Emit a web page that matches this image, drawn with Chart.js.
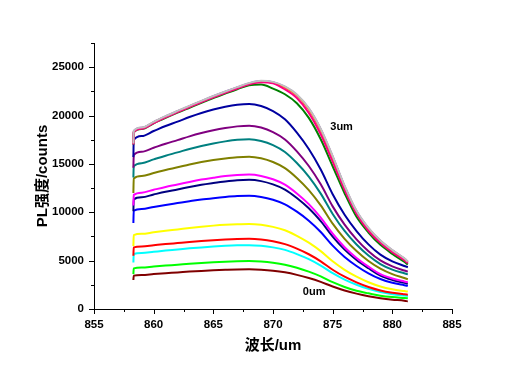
<!DOCTYPE html>
<html>
<head>
<meta charset="utf-8">
<script src="https://cdn.jsdelivr.net/npm/chart.js@4.4.1/dist/chart.umd.min.js"></script>
<style>
html,body{margin:0;padding:0;background:#fff;}
canvas{display:block;}
</style>
</head>
<body>
<canvas id="c" width="526" height="374"></canvas>
<script>
// wavelength samples (nm)
const wavelengths = [858.3, 858.33, 859, 860, 861, 862, 863, 864, 865, 866, 867, 868, 869, 870, 871, 872, 873, 874, 875, 876, 877, 878, 879, 880, 881, 881.3];

// PL intensity series (counts), top of the stack first
const sGray    = [17100, 18410, 18760, 19350, 19940, 20480, 21000, 21520, 22020, 22490, 22940, 23360, 23600, 23480, 23010, 22180, 20770, 18640, 15810, 12740, 10150, 8380, 7080, 6090, 5240, 4910];
const sPink    = [17000, 18290, 18640, 19230, 19820, 20350, 20870, 21390, 21880, 22350, 22790, 23220, 23450, 23330, 22700, 21810, 20280, 18060, 15240, 12310, 9850, 8090, 6850, 5860, 5040, 4740];
const sOrange  = [17050, 18350, 18700, 19290, 19880, 20420, 20940, 21460, 21960, 22420, 22870, 23290, 23530, 23400, 22920, 22090, 20660, 18520, 15680, 12620, 10050, 8300, 7010, 6030, 5190, 4860];
const sViolet  = [17050, 18380, 18730, 19320, 19910, 20450, 20970, 21490, 21990, 22460, 22900, 23320, 23560, 23440, 22960, 22130, 20710, 18570, 15740, 12680, 10100, 8340, 7050, 6060, 5210, 4880];
const sGreen   = [17000, 18250, 18600, 19200, 19760, 20300, 20810, 21320, 21810, 22270, 22720, 23130, 23200, 22790, 22200, 21270, 19760, 17550, 14760, 11970, 9530, 7910, 6630, 5700, 4880, 4600];
const sRoyal   = [15700, 17460, 17880, 18400, 18920, 19370, 19850, 20270, 20620, 20910, 21120, 21200, 20990, 20460, 19610, 18230, 16540, 14420, 11870, 9750, 8060, 6680, 5620, 4920, 4450, 4320];
const sPurple  = [14600, 15910, 16250, 16670, 17090, 17460, 17850, 18190, 18480, 18710, 18880, 18950, 18760, 18290, 17530, 16300, 14780, 12890, 10610, 8720, 7200, 5970, 5020, 4400, 3980, 3870];
const sTeal    = [13600, 14770, 15080, 15470, 15850, 16190, 16550, 16860, 17120, 17330, 17490, 17550, 17370, 16940, 16230, 15090, 13690, 11930, 9830, 8070, 6670, 5530, 4650, 4070, 3690, 3580];
const sOlive   = [12000, 13500, 13750, 14060, 14380, 14650, 14940, 15190, 15400, 15570, 15700, 15750, 15590, 15200, 14570, 13550, 12290, 10710, 8820, 7250, 5990, 4960, 4170, 3600, 3200, 3080];
const sMagenta = [10700, 11800, 12030, 12330, 12620, 12870, 13140, 13380, 13570, 13740, 13850, 13900, 13760, 13410, 12860, 11950, 10840, 9450, 7780, 6390, 5280, 4380, 3600, 3150, 2850, 2770];
const sNavy    = [10100, 11330, 11550, 11840, 12120, 12360, 12620, 12850, 13030, 13190, 13310, 13350, 13220, 12880, 12350, 11480, 10410, 9080, 7480, 6140, 5070, 4210, 3450, 3000, 2700, 2620];
const sBlue    = [8900, 10160, 10330, 10550, 10760, 10950, 11140, 11320, 11460, 11580, 11670, 11700, 11580, 11290, 10820, 10060, 9130, 7960, 6550, 5380, 4450, 3690, 3100, 2710, 2460, 2390];
const sYellow  = [6500, 7640, 7770, 7930, 8090, 8230, 8380, 8510, 8620, 8710, 8770, 8800, 8710, 8490, 8140, 7570, 6860, 5980, 4930, 4050, 3340, 2770, 2330, 2040, 1850, 1800];
const sRed     = [5500, 6370, 6470, 6590, 6710, 6820, 6930, 7030, 7110, 7180, 7230, 7250, 7180, 7000, 6710, 6240, 5660, 4930, 4060, 3340, 2760, 2280, 1920, 1680, 1520, 1480];
const sCyan    = [4800, 5680, 5780, 5910, 6040, 6150, 6270, 6370, 6460, 6530, 6580, 6600, 6530, 6370, 6110, 5680, 5150, 4490, 3700, 3040, 2510, 2080, 1750, 1530, 1390, 1350];
const sLime    = [3600, 4200, 4280, 4390, 4490, 4580, 4680, 4760, 4830, 4890, 4930, 4950, 4900, 4780, 4580, 4260, 3860, 3370, 2770, 2280, 1880, 1620, 1380, 1230, 1130, 1100];
const sWine    = [3000, 3450, 3520, 3610, 3700, 3780, 3870, 3940, 4000, 4050, 4090, 4100, 4060, 3960, 3790, 3530, 3200, 2800, 2330, 1920, 1590, 1320, 1110, 960, 860, 790];

const xTicks = [855, 860, 865, 870, 875, 880, 885];
const yTicks = [0, 5000, 10000, 15000, 20000, 25000];

const seriesList = [
  [sGray, '#c0c0c0'], [sPink, '#ff0080'], [sOrange, '#ff8000'], [sViolet, '#8000ff'],
  [sGreen, '#008000'], [sRoyal, '#0000a0'], [sPurple, '#800080'], [sTeal, '#008080'],
  [sOlive, '#808000'], [sMagenta, '#ff00ff'], [sNavy, '#000080'], [sBlue, '#0000ff'],
  [sYellow, '#ffff00'], [sRed, '#ff0000'], [sCyan, '#00ffff'], [sLime, '#00ff00'], [sWine, '#800000']
];

const datasets = seriesList.map(([vals, col]) => ({
  data: wavelengths.map((w, i) => ({x: w, y: vals[i]})),
  borderColor: col,
  backgroundColor: col,
  borderWidth: 2,
  pointRadius: 0,
  fill: false,
  cubicInterpolationMode: 'monotone'
}));

const FONT = "'Liberation Sans', Arial, 'Noto Sans CJK SC', sans-serif";

const tickPlugin = {
  id: 'minorTicks',
  afterDraw(chart) {
    const {ctx, chartArea} = chart;
    const xs = chart.scales.x, ys = chart.scales.y;
    ctx.save();
    ctx.strokeStyle = '#000';
    ctx.lineWidth = 1;
    ctx.beginPath();
    for (let v = xs.min; v <= xs.max + 1e-6; v += 2.5) {
      const px = Math.round(xs.getPixelForValue(v)) + 0.5;
      const len = xTicks.includes(v) ? 5 : 3;
      ctx.moveTo(px, chartArea.bottom);
      ctx.lineTo(px, chartArea.bottom + len);
    }
    for (let v = ys.min; v <= ys.max + 1e-6; v += 2500) {
      const py = Math.round(ys.getPixelForValue(v)) + 0.5;
      const len = yTicks.includes(v) ? 5 : 3;
      ctx.moveTo(chartArea.left, py);
      ctx.lineTo(chartArea.left - len, py);
    }
    ctx.stroke();
    ctx.fillStyle = '#000';
    ctx.font = "bold 11px " + FONT;
    ctx.textAlign = 'left';
    ctx.textBaseline = 'middle';
    ctx.fillText('3um', xs.getPixelForValue(874.8), ys.getPixelForValue(18800));
    ctx.fillText('0um', xs.getPixelForValue(872.5), ys.getPixelForValue(1760));
    ctx.restore();
  }
};

new Chart(document.getElementById('c'), {
  type: 'line',
  data: {datasets},
  options: {
    responsive: false,
    animation: false,
    devicePixelRatio: 1,
    layout: {padding: {left: 0, right: 74, top: 43, bottom: 0}},
    plugins: {legend: {display: false}, tooltip: {enabled: false}},
    scales: {
      x: {
        type: 'linear',
        min: 855, max: 885,
        grid: {display: false, drawTicks: false},
        border: {display: true, color: '#000', width: 1},
        ticks: {color: '#000', padding: 9, maxRotation: 0, autoSkip: false,
                font: {family: FONT, size: 11.5, weight: 'bold'}},
        afterBuildTicks(scale) { scale.ticks = xTicks.map(v => ({value: v})); },
        title: {display: true, text: '波长/um', color: '#000',
                font: {family: FONT, size: 15, weight: 'bold'},
                padding: {top: 0, bottom: 19}},
        afterFit(scale) { scale.height = 65; }
      },
      y: {
        type: 'linear',
        min: 0, max: 27500,
        grid: {display: false, drawTicks: false},
        border: {display: true, color: '#000', width: 1},
        ticks: {color: '#000', padding: 10, autoSkip: false,
                callback: v => String(v),
                font: {family: FONT, size: 11.5, weight: 'bold'}},
        afterBuildTicks(scale) { scale.ticks = yTicks.map(v => ({value: v})); },
        title: {display: true, text: 'PL强度/counts', color: '#000',
                font: {family: FONT, size: 15, weight: 'bold'},
                padding: {top: 34, bottom: 0}},
        afterFit(scale) { scale.width = 94; }
      }
    }
  },
  plugins: [tickPlugin]
});
</script>
</body>
</html>
